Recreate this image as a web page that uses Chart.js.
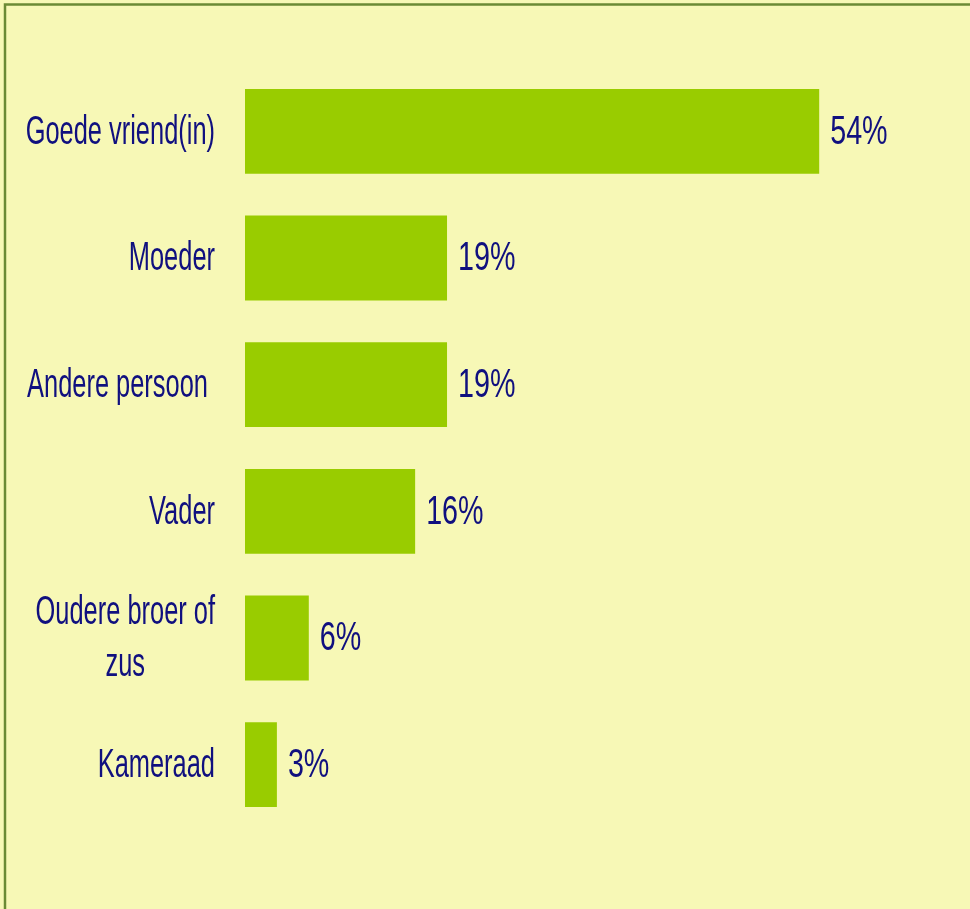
<!DOCTYPE html>
<html>
<head>
<meta charset="utf-8">
<script src="https://cdn.jsdelivr.net/npm/chart.js@4.4.0/dist/chart.umd.min.js"></script>
<style>
  html, body { margin: 0; padding: 0; background: #f7f8b6; }
  canvas { display: block; }
</style>
</head>
<body>
<canvas id="myChart" width="970" height="909"></canvas>
<script>
const categories = ['Goede vriend(in)', 'Moeder', 'Andere persoon ', 'Vader', ['Oudere broer of', 'zus'], 'Kameraad'];
const values = [54, 19, 19, 16, 6, 3];
const valueLabels = ['54%', '19%', '19%', '16%', '6%', '3%'];

const textColor = '#10107f';
const fontSize = 41;

// draws squeezed text like the condensed font of the original
function narrowText(ctx, text, x, y, align, squeeze) {
  ctx.save();
  ctx.translate(x, y);
  ctx.scale(squeeze, 1);
  ctx.textAlign = align;
  ctx.textBaseline = 'middle';
  ctx.fillText(text, 0, 0);
  ctx.restore();
}

const backdrop = {
  id: 'backdrop',
  beforeDraw(chart) {
    const ctx = chart.ctx;
    ctx.save();
    ctx.fillStyle = '#f7f8b6';
    ctx.fillRect(0, 0, chart.width, chart.height);
    ctx.strokeStyle = '#6b8a35';
    ctx.lineWidth = 2.5;
    ctx.strokeRect(5, 4.5, chart.width + 20, chart.height + 20);
    ctx.restore();
  }
};

const labelsPlugin = {
  id: 'labelsPlugin',
  afterDatasetsDraw(chart) {
    const ctx = chart.ctx;
    const yScale = chart.scales.y;
    const bars = chart.getDatasetMeta(0).data;
    ctx.save();
    ctx.fillStyle = textColor;
    ctx.font = fontSize + 'px "Liberation Sans", Arial, sans-serif';

    bars.forEach((bar, i) => {
      narrowText(ctx, valueLabels[i], bar.x + 11, bar.y + 1, 'left', 0.7);
    });

    const sq = 0.62;
    categories.forEach((cat, i) => {
      const y = yScale.getPixelForValue(i) + 1;
      const lines = Array.isArray(cat) ? cat : [cat];
      const right = 215;
      const lineH = 52;
      const widest = Math.max(...lines.map(l => ctx.measureText(l).width)) * sq;
      const top = y - (lines.length - 1) * lineH / 2;
      lines.forEach((line, j) => {
        const ly = top + j * lineH;
        if (lines.length > 1) {
          narrowText(ctx, line, right - widest / 2, ly, 'center', sq);
        } else {
          narrowText(ctx, line, right, ly, 'right', sq);
        }
      });
    });
    ctx.restore();
  }
};

const ctx = document.getElementById('myChart').getContext('2d');
const myChart = new Chart(ctx, {
  type: 'bar',
  data: {
    labels: categories,
    datasets: [{
      data: values,
      backgroundColor: '#99cc00',
      borderWidth: 0,
      barPercentage: 0.67,
      categoryPercentage: 1
    }]
  },
  options: {
    indexAxis: 'y',
    responsive: false,
    animation: false,
    layout: { padding: { left: 245, right: 87, top: 68, bottom: 81 } },
    scales: {
      x: { display: false, min: 0, max: 60 },
      y: { display: false }
    },
    plugins: {
      legend: { display: false },
      tooltip: { enabled: false }
    }
  },
  plugins: [backdrop, labelsPlugin]
});
</script>
</body>
</html>
